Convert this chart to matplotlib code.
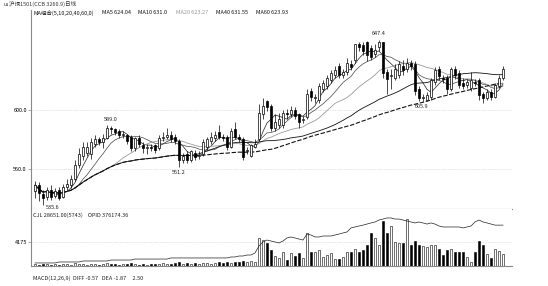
import numpy as np
import pandas as pd
import matplotlib
matplotlib.use("Agg")
import matplotlib.pyplot as plt

plt.rcParams['font.family'] = ['Noto Sans CJK SC', 'DejaVu Sans']

title = "沪铜1501(CCB 3260.9)日线"
ma_periods = [5, 10, 20, 40, 60]
ma_text = ["MA组合(5,10,20,40,60,0)", "MA5 624.04", "MA10 631.0", "MA20 623.27", "MA40 631.55", "MA60 623.93"]
vol_text = "CJL 28651.00(5743)    OPID 376174.36"
macd_text = "MACD(12,26,9)  DIFF -0.57   DEA -1.87     2.50"
price_ticks = [560, 600]
price_ticklabels = ["560.0", "600.0"]
vol_tick = 4175
vol_ticklabel = "4175"

# daily candles
opens = [545, 549, 543, 541, 546, 542, 546, 541, 548, 549,
         553, 563, 569, 571, 570, 577, 580, 578, 581, 588,
         587, 586, 583, 583, 582, 574, 581, 576, 574, 575,
         576, 574, 581, 582, 583, 582, 579, 566, 570, 566,
         571, 569, 570, 575, 579, 581, 585, 582, 582, 575,
         587, 582, 580, 572, 569, 575, 580, 597, 606, 603,
         588, 590, 590, 598, 597, 600, 597, 593, 595, 613,
         608, 607, 614, 616, 620, 624, 630, 624, 626, 631,
         634, 645, 644, 646, 642, 638, 643, 646, 626, 623,
         622, 624, 630, 628, 632, 631, 614, 608, 607, 609,
         619, 628, 622, 622, 614, 628, 625, 618, 617, 615,
         619, 620, 611, 608, 612, 609, 616, 622]
closes = [549, 544, 540, 546, 541, 545, 540, 548, 550, 553,
          563, 570, 575, 575, 578, 580, 578, 581, 588, 587,
          585, 583, 584, 579, 574, 581, 577, 574, 575, 574,
          573, 581, 582, 583, 580, 579, 566, 569, 566, 572,
          568, 569.5, 578, 580, 582, 583, 582, 581, 575, 586,
          582, 580, 568, 573, 576, 577, 598, 603, 602, 588,
          592, 594, 598, 597, 600, 596, 592, 594, 611, 609,
          608.5, 616, 618, 622, 625, 627, 624, 626, 632, 629,
          645, 643, 640, 637, 636, 641, 646, 625, 621, 624,
          628, 631, 627, 632, 630, 613, 608, 609, 610, 620,
          627, 623, 621, 614, 628, 624, 617, 616, 619, 620,
          618, 610, 608, 612, 609, 617, 622, 628]
highs = [552, 551, 546, 548, 549, 547, 548, 550, 553, 556,
         566, 574, 578, 578, 581, 583, 582, 584, 590, 589,
         588, 587, 586, 584, 583, 582, 583, 578, 577, 577,
         577, 583, 585, 588, 586, 584, 580, 571, 572, 573,
         573, 572, 580, 582, 585, 586, 590, 584, 583, 588,
         592, 584, 582, 575, 577, 580, 604, 608, 607, 604,
         597, 598, 600, 601, 603, 602, 598, 596, 614, 615,
         611, 618, 620, 624, 627, 630, 632, 628, 635, 634,
         645, 646, 646, 646.5, 644, 645, 647.4, 646, 628, 628,
         631, 633, 634, 635, 634, 633, 616, 611, 612, 622,
         629, 630, 624, 624, 629, 630, 627, 622, 621, 626,
         621, 622, 612, 614, 614, 618, 624, 630]
lows = [540, 538, 535.6, 539, 539, 540, 539, 540, 546, 547,
        552, 561, 566, 569, 567, 575, 576, 574, 580, 584,
        583, 581, 581, 577, 572, 572, 575, 571, 570, 572,
        571, 573, 579, 580, 578, 577, 561.2, 564, 564, 565,
        566, 567, 569, 573, 577, 579, 580, 579, 573, 574,
        580, 578, 566, 570, 568, 574, 579, 594, 599, 586,
        586, 588, 588, 594, 595, 594, 588, 591, 594, 606,
        605, 605, 612, 614, 618, 622, 622, 622, 624, 627,
        632, 640, 637, 633, 634, 636, 640, 622, 611, 614,
        620, 622, 624, 626, 627, 610, 605.9, 606, 606, 607,
        617, 620, 618, 611, 613, 621, 615, 614, 615, 613,
        616, 607, 605, 607, 607, 608, 615, 620]
volume = [350, 170, 350, 350, 170, 350, 170, 350, 350, 170,
          520, 350, 350, 170, 350, 350, 170, 350, 520, 350,
          350, 170, 350, 350, 520, 350, 170, 350, 170, 350,
          350, 350, 520, 350, 350, 520, 700, 350, 520, 350,
          520, 350, 520, 520, 350, 520, 700, 520, 700, 520,
          700, 700, 870, 700, 870, 700, 4870, 4520, 4000, 2780,
          1740, 1390, 2440, 1040, 2260, 1740, 2260, 1390, 5740, 2440,
          2440, 2780, 1570, 1910, 2260, 1220, 1220, 1570, 2440, 2440,
          2960, 2440, 2780, 3650, 5740, 4870, 3650, 7830, 5740, 6960,
          4180, 4000, 4000, 8180, 3650, 4350, 3650, 3480, 3310, 3650,
          3650, 2960, 1910, 2780, 2960, 2440, 2440, 2440, 1570, 700,
          2440, 4350, 3650, 2090, 1390, 2960, 2610, 2090]
# open interest, thousands
open_interest = [28, 28, 28, 28, 28, 28, 37, 37, 37, 37,
                 37, 37, 46, 46, 46, 46, 46, 46, 46, 55,
                 55, 55, 55, 55, 55, 64, 64, 64, 64, 64,
                 64, 64, 64, 64, 74, 74, 74, 74, 74, 74,
                 74, 74, 74, 74, 74, 74, 74, 74, 74, 83,
                 83, 92, 92, 101, 101, 120, 184, 221, 239, 230,
                 221, 212, 230, 258, 267, 258, 248, 239, 294, 285,
                 267, 267, 276, 276, 276, 285, 294, 304, 313, 350,
                 359, 368, 376, 386, 396, 405, 423, 432, 442, 442,
                 432, 432, 423, 414, 405, 396, 405, 396, 386, 396,
                 386, 368, 359, 359, 359, 359, 359, 350, 359, 368,
                 405, 423, 405, 396, 386, 376, 376, 376]

W, H = 548, 286
def fx(px):
    return px / W
def fy(py):
    return 1 - py / H

n = len(closes)
idx = np.arange(n)
o = np.array(opens, float)
c = np.array(closes, float)
hi = np.array(highs, float)
lo = np.array(lows, float)
up = c >= o
colors = np.where(up, 'white', 'black')

fig = plt.figure(figsize=(W / 100, H / 100), dpi=100)
ax = fig.add_axes([fx(31), fy(209), fx(481), (209 - 10) / H])
axv = fig.add_axes([fx(31), fy(266), fx(481), 57 / H], sharex=ax)

k = 40 / 59
ax.set_ylim(600 - 99 * k, 600 + 100 * k)
ax.set_xlim(-1, -1 + 481 / 4)

for y in price_ticks:
    ax.axhline(y, color='#c8c8c8', lw=0.5, ls=(0, (1, 1.5)), zorder=0)

ma_styles = {5: ('#222222', 0.5, '-'), 10: ('#444444', 0.5, '-'), 20: ('#9a9a9a', 0.6, '-'),
             40: ('#111111', 0.6, '-'), 60: ('#111111', 0.8, (0, (4, 1.5)))}
s = pd.Series(c)
for p in ma_periods:
    col, lw, ls = ma_styles[p]
    ax.plot(idx, s.rolling(p, min_periods=1).mean(), color=col, lw=lw, ls=ls, zorder=1)

ax.vlines(idx, lo, hi, color='black', lw=0.5, zorder=2)
ax.bar(idx, np.maximum(np.abs(c - o), 0.35), 0.65, bottom=np.minimum(o, c),
       color=colors, edgecolor='black', lw=0.5, zorder=3)

fs = 4.0
ann = [(int(np.argmax(hi)), hi.max(), 0, 5), (19, hi[19], 0, 5),
       (int(np.argmin(lo)), lo.min(), 7, -1.5), (36, lo[36], 0, -4), (96, lo[96], 2, -4)]
for i, v, dx, dy in ann:
    ax.annotate("%.1f" % v, (i, v), xytext=(dx, dy), textcoords='offset points',
                ha='center', va='center', fontsize=fs, color='#222222')

ax.set_yticks(price_ticks)
ax.set_yticklabels(price_ticklabels)
ax.tick_params(axis='y', length=2, width=0.5, labelsize=fs, pad=1, color='#888888')
ax.tick_params(axis='x', bottom=False, labelbottom=False)
for sp in ['top', 'right']:
    ax.spines[sp].set_visible(False)
for sp in ['left', 'bottom']:
    ax.spines[sp].set_color('#888888')
    ax.spines[sp].set_linewidth(0.8)

# volume + open interest
axv.set_ylim(0, 57 * 174)
axv.axhline(vol_tick, color='#c8c8c8', lw=0.5, ls=(0, (1, 1.5)), zorder=0)
axv.bar(idx, volume, 0.65, color=colors, edgecolor='black', lw=0.4, zorder=2)
axo = axv.twinx()
axo.plot(idx, open_interest, color='#222222', lw=0.5)
axo.set_ylim(0, 57 * 9.2)
axo.axis('off')
axv.set_yticks([vol_tick])
axv.set_yticklabels([vol_ticklabel])
axv.tick_params(axis='y', length=2, width=0.5, labelsize=fs, pad=1, color='#888888')
axv.tick_params(axis='x', bottom=False, labelbottom=False)
for sp in ['top', 'right']:
    axv.spines[sp].set_visible(False)
for sp in ['left', 'bottom']:
    axv.spines[sp].set_color('#888888')
    axv.spines[sp].set_linewidth(0.8)

# header texts
fig.text(fx(3), fy(4), "ш", fontsize=fs, va='center', color='#444444')
fig.text(fx(9), fy(4), title, fontsize=fs, va='center', color='#333333')
r = fig.canvas.get_renderer()
x = 33
for t in ma_text:
    tt = fig.text(fx(x), fy(13), t, fontsize=fs, va='center',
                  color='#999999' if t.startswith('MA20') else '#111111')
    x += tt.get_window_extent(renderer=r).width + 8
fig.text(fx(33), fy(215), vol_text, fontsize=fs, va='center', color='#222222')
fig.text(fx(33), fy(278), macd_text, fontsize=fs, va='center', color='#222222')

fig.savefig("out.png", dpi=100)
